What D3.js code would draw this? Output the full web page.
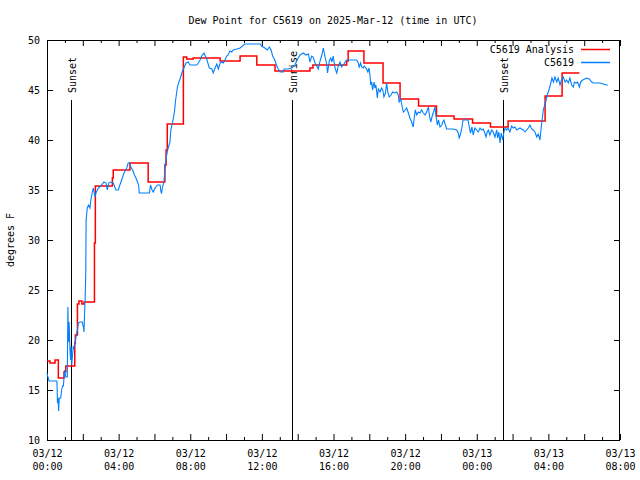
<!DOCTYPE html>
<html>
<head>
<meta charset="utf-8">
<script src="https://cdn.jsdelivr.net/npm/d3@7"></script>
<style>
  html, body { margin: 0; padding: 0; background: #fff; }
  svg { display: block; }
  text { font-family: "DejaVu Sans Mono", "Liberation Mono", monospace; font-size: 10px; fill: #000; }
</style>
</head>
<body>
<svg id="chart" width="640" height="480"></svg>
<script>
// ---------------- data (minutes after 2025-03-12 00:00 UTC) ----------------
const chartTitle = "Dew Point for C5619 on 2025-Mar-12 (time in UTC)";
const yLabel = "degrees F";
const seriesNames = ["C5619 Analysis", "C5619"];

const anaMinutes = [0,10,27,38,57,63,93,95,102,107,117,124,159,162,219,222,278,339,395,399,403,457,468,490,580,647,703,764,881,891,1004,1009,1062,1126,1183,1245,1305,1364,1426,1486,1545,1669,1726,1784];
const anaDewpoint = [17.9,17.7,18.0,16.2,16.8,17.4,19.7,20.5,23.6,23.9,23.6,23.8,29.7,35.4,36.2,37.0,37.7,35.8,37.5,39.0,41.6,48.3,48.1,48.2,47.9,48.4,47.5,46.9,47.2,47.5,47.9,48.9,47.7,45.7,44.1,43.4,42.4,42.1,41.7,41.3,41.9,44.4,46.7,46.7];

const obsMinutes = [0,3,7,33,34,35,37,39,41,46,49,52,55,57,59,63,68,70,72,74,77,79,81,83,85,88,90,93,98,102,105,111,118,122,124,126,128,130,131,135,139,144,147,152,155,161,164,172,180,191,198,202,207,213,222,231,239,242,250,258,267,272,278,281,287,293,298,303,307,309,334,343,347,352,356,362,370,379,382,384,387,392,396,401,406,412,415,421,427,431,437,442,448,453,460,466,473,479,490,502,507,513,518,526,535,544,552,557,563,569,574,580,585,591,596,602,607,613,619,624,636,647,663,714,719,730,738,745,751,756,762,770,775,781,792,794,809,820,829,838,848,859,868,876,881,887,892,898,904,909,915,920,926,931,937,940,946,951,955,959,965,971,976,982,987,993,999,1004,1038,1043,1046,1051,1054,1060,1063,1069,1075,1079,1082,1085,1088,1091,1096,1099,1102,1107,1110,1116,1121,1125,1129,1134,1138,1142,1147,1153,1158,1164,1172,1177,1180,1185,1189,1194,1200,1205,1211,1216,1222,1227,1231,1234,1239,1244,1250,1255,1261,1267,1272,1278,1281,1286,1290,1294,1300,1303,1308,1312,1317,1323,1326,1330,1335,1339,1361,1373,1378,1381,1385,1390,1394,1411,1415,1419,1424,1428,1434,1440,1445,1451,1456,1462,1467,1471,1475,1479,1484,1490,1495,1501,1507,1510,1514,1518,1522,1527,1531,1535,1540,1545,1551,1557,1562,1568,1574,1579,1585,1590,1596,1602,1607,1613,1618,1624,1629,1635,1641,1646,1652,1655,1660,1663,1666,1671,1676,1682,1688,1692,1697,1702,1708,1713,1719,1724,1730,1736,1741,1747,1752,1758,1764,1767,1773,1778,1784,1788,1795,1808,1817,1825,1831,1853,1864,1875,1879];
const obsDewpoint = [16.7,16.3,15.9,15.9,15.2,13.7,14.2,12.9,14.2,14.2,15.0,15.4,15.4,16.3,17.0,16.3,16.3,23.3,19.8,21.8,19.0,18.0,19.3,17.5,18.3,19.3,19.2,19.5,20.5,21.0,21.7,21.8,21.8,21.3,20.8,22.8,24.2,26.9,32.0,33.2,33.5,33.2,34.0,34.8,35.2,34.3,34.7,35.2,35.4,35.8,35.7,35.0,35.7,35.8,35.7,35.0,35.0,35.3,36.0,36.7,37.2,37.7,37.7,37.3,37.0,36.5,36.2,35.8,35.5,34.7,34.7,34.7,35.5,35.0,34.8,35.2,35.5,35.5,34.8,34.7,35.3,35.8,37.5,38.5,39.2,39.8,41.0,41.8,42.8,44.0,45.3,45.8,46.3,46.8,47.3,47.7,47.8,47.5,47.5,47.5,47.7,48.0,48.4,48.7,48.1,47.2,47.1,46.7,47.2,47.6,47.1,47.7,47.8,47.7,48.0,48.4,48.5,48.9,48.8,49.0,49.1,49.2,49.6,49.6,49.4,49.2,49.0,49.3,49.0,48.4,48.1,47.4,47.1,46.8,46.8,47.1,47.1,47.2,47.4,48.0,48.5,48.7,48.5,48.6,47.8,48.4,48.3,47.7,47.4,47.1,47.9,48.4,49.2,48.4,47.6,46.7,47.9,48.2,47.8,48.4,47.2,46.7,47.4,47.8,47.3,47.5,47.8,48.0,48.0,47.7,47.3,47.7,47.3,47.2,47.4,47.2,46.8,47.2,46.5,45.5,45.8,45.0,45.8,45.2,45.5,44.2,45.1,44.8,45.2,45.0,44.3,44.7,45.7,44.8,44.3,44.5,44.8,44.7,44.8,44.5,43.8,44.1,43.5,42.8,43.0,43.2,42.7,42.2,41.8,41.3,42.3,43.0,42.5,42.8,42.7,43.0,42.7,42.5,42.8,43.3,42.5,41.8,42.3,42.7,43.3,42.5,41.5,42.0,41.3,41.5,41.8,42.0,41.5,41.1,41.1,41.0,40.7,40.2,40.5,41.2,42.0,42.0,41.3,40.7,41.3,40.5,41.2,41.0,40.8,41.2,41.0,41.1,40.7,40.3,40.8,41.0,40.5,41.0,40.8,40.3,41.0,40.2,40.8,39.7,40.7,40.0,40.8,41.2,41.0,41.2,40.8,41.4,41.2,41.3,41.0,41.1,41.2,41.1,41.0,40.8,41.0,41.2,41.5,41.1,41.0,40.8,40.3,40.6,40.0,41.0,42.2,43.0,43.3,43.8,44.5,45.0,45.7,46.2,45.8,46.3,45.8,46.2,45.5,46.0,46.3,45.8,46.0,45.7,46.2,45.5,45.3,45.8,45.7,45.8,45.3,45.8,46.0,46.2,46.1,45.8,45.7,45.7,45.6,45.5,45.5];

const eventNames = ["Sunset", "Sunrise", "Sunset"];
const eventMinutes = [80, 821, 1528];

const yTicks = [10, 15, 20, 25, 30, 35, 40, 45, 50];
const yDomain = [10, 50];
const startTime = Date.UTC(2025, 2, 12, 0, 0);
const endTime = Date.UTC(2025, 2, 13, 8, 0);

// ---------------- drawing ----------------
const svg = d3.select("#chart");
const W = 640, H = 480;
const m = { left: 47, right: 20, top: 40, bottom: 40 };
const toDate = mins => new Date(startTime + mins * 60000);

const x = d3.scaleUtc().domain([new Date(startTime), new Date(endTime)]).range([m.left, W - m.right]);
const y = d3.scaleLinear().domain(yDomain).range([H - m.bottom, m.top]);

const hourTicks = d3.utcHour.every(1).range(new Date(startTime), new Date(endTime + 1));
const fmtDate = d3.utcFormat("%m/%d");
const fmtTime = d3.utcFormat("%H:%M");

// bottom axis
const gb = svg.append("g").attr("transform", `translate(0,${H - m.bottom})`)
  .call(d3.axisBottom(x).tickValues(hourTicks).tickSize(-6).tickPadding(5).tickFormat(""));
gb.select(".domain").remove();
gb.selectAll(".tick line").attr("y2", d => d.getUTCHours() % 2 === 0 ? -6 : -3).attr("stroke", "#000");
gb.selectAll(".tick text").remove();
gb.selectAll(".tick").filter(d => d.getUTCHours() % 4 === 0).each(function(d) {
  const t = d3.select(this).append("text").attr("text-anchor", "middle").attr("fill", "#000");
  t.append("tspan").attr("x", 0).attr("y", 17).text(fmtDate(d));
  t.append("tspan").attr("x", 0).attr("y", 30).text(fmtTime(d));
});

// top axis
const gt = svg.append("g").attr("transform", `translate(0,${m.top})`)
  .call(d3.axisTop(x).tickValues(hourTicks).tickSize(-6).tickFormat(""));
gt.select(".domain").remove();
gt.selectAll(".tick line").attr("y2", d => d.getUTCHours() % 2 === 0 ? 6 : 3).attr("stroke", "#000");

// left axis
const gl = svg.append("g").attr("transform", `translate(${m.left},0)`)
  .call(d3.axisLeft(y).tickValues(yTicks).tickSize(-6).tickPadding(7));
gl.select(".domain").remove();
gl.selectAll(".tick line").attr("stroke", "#000");
gl.selectAll(".tick text").attr("fill", "#000");

// right axis
const gr = svg.append("g").attr("transform", `translate(${W - m.right},0)`)
  .call(d3.axisRight(y).tickValues(yTicks).tickSize(-6).tickFormat(""));
gr.select(".domain").remove();
gr.selectAll(".tick line").attr("stroke", "#000");

svg.selectAll(".tick text").style("font-family", "'DejaVu Sans Mono', monospace").style("font-size", "10px");

// border
svg.append("rect")
  .attr("x", m.left + 0.5).attr("y", m.top + 0.5)
  .attr("width", W - m.left - m.right - 1).attr("height", H - m.top - m.bottom)
  .attr("fill", "none").attr("stroke", "#000").attr("stroke-width", 1);

// sunrise / sunset markers
eventNames.forEach((name, i) => {
  const ex = Math.round(x(toDate(eventMinutes[i]))) + 0.5;
  svg.append("line").attr("x1", ex).attr("x2", ex).attr("y1", y(44)).attr("y2", y(10))
    .attr("stroke", "#000").attr("stroke-width", 1);
  svg.append("text")
    .attr("transform", `translate(${ex + 1},${y(44) - 7}) rotate(-90)`)
    .attr("dominant-baseline", "central")
    .attr("text-anchor", "start")
    .text(name);
});

// series
const anaData = anaMinutes.map((mm, i) => ({ t: toDate(mm), v: anaDewpoint[i] }));
const obsData = obsMinutes.map((mm, i) => ({ t: toDate(mm), v: obsDewpoint[i] }));

svg.append("path").datum(anaData)
  .attr("d", d3.line().x(d => x(d.t)).y(d => y(d.v)).curve(d3.curveStepAfter))
  .attr("fill", "none").attr("stroke", "#ff0000").attr("stroke-width", 1.5);

svg.append("path").datum(obsData)
  .attr("d", d3.line().x(d => x(d.t)).y(d => y(d.v)))
  .attr("fill", "none").attr("stroke", "#0080ff").attr("stroke-width", 1.1);

// legend
const legendColors = ["#ff0000", "#0080ff"];
seriesNames.forEach((name, i) => {
  const ly = 49.5 + i * 13;
  svg.append("text").attr("x", 574).attr("y", ly).attr("dominant-baseline", "central")
    .attr("text-anchor", "end").text(name);
  svg.append("line").attr("x1", 581).attr("x2", 610).attr("y1", ly).attr("y2", ly)
    .attr("stroke", legendColors[i]).attr("stroke-width", 1.5);
});

// title
svg.append("text").attr("x", 333).attr("y", 20).attr("dominant-baseline", "central")
  .attr("text-anchor", "middle").text(chartTitle);

// y label
svg.append("text").attr("transform", `translate(10,240) rotate(-90)`)
  .attr("dominant-baseline", "central").attr("text-anchor", "middle").text(yLabel);
</script>
</body>
</html>
